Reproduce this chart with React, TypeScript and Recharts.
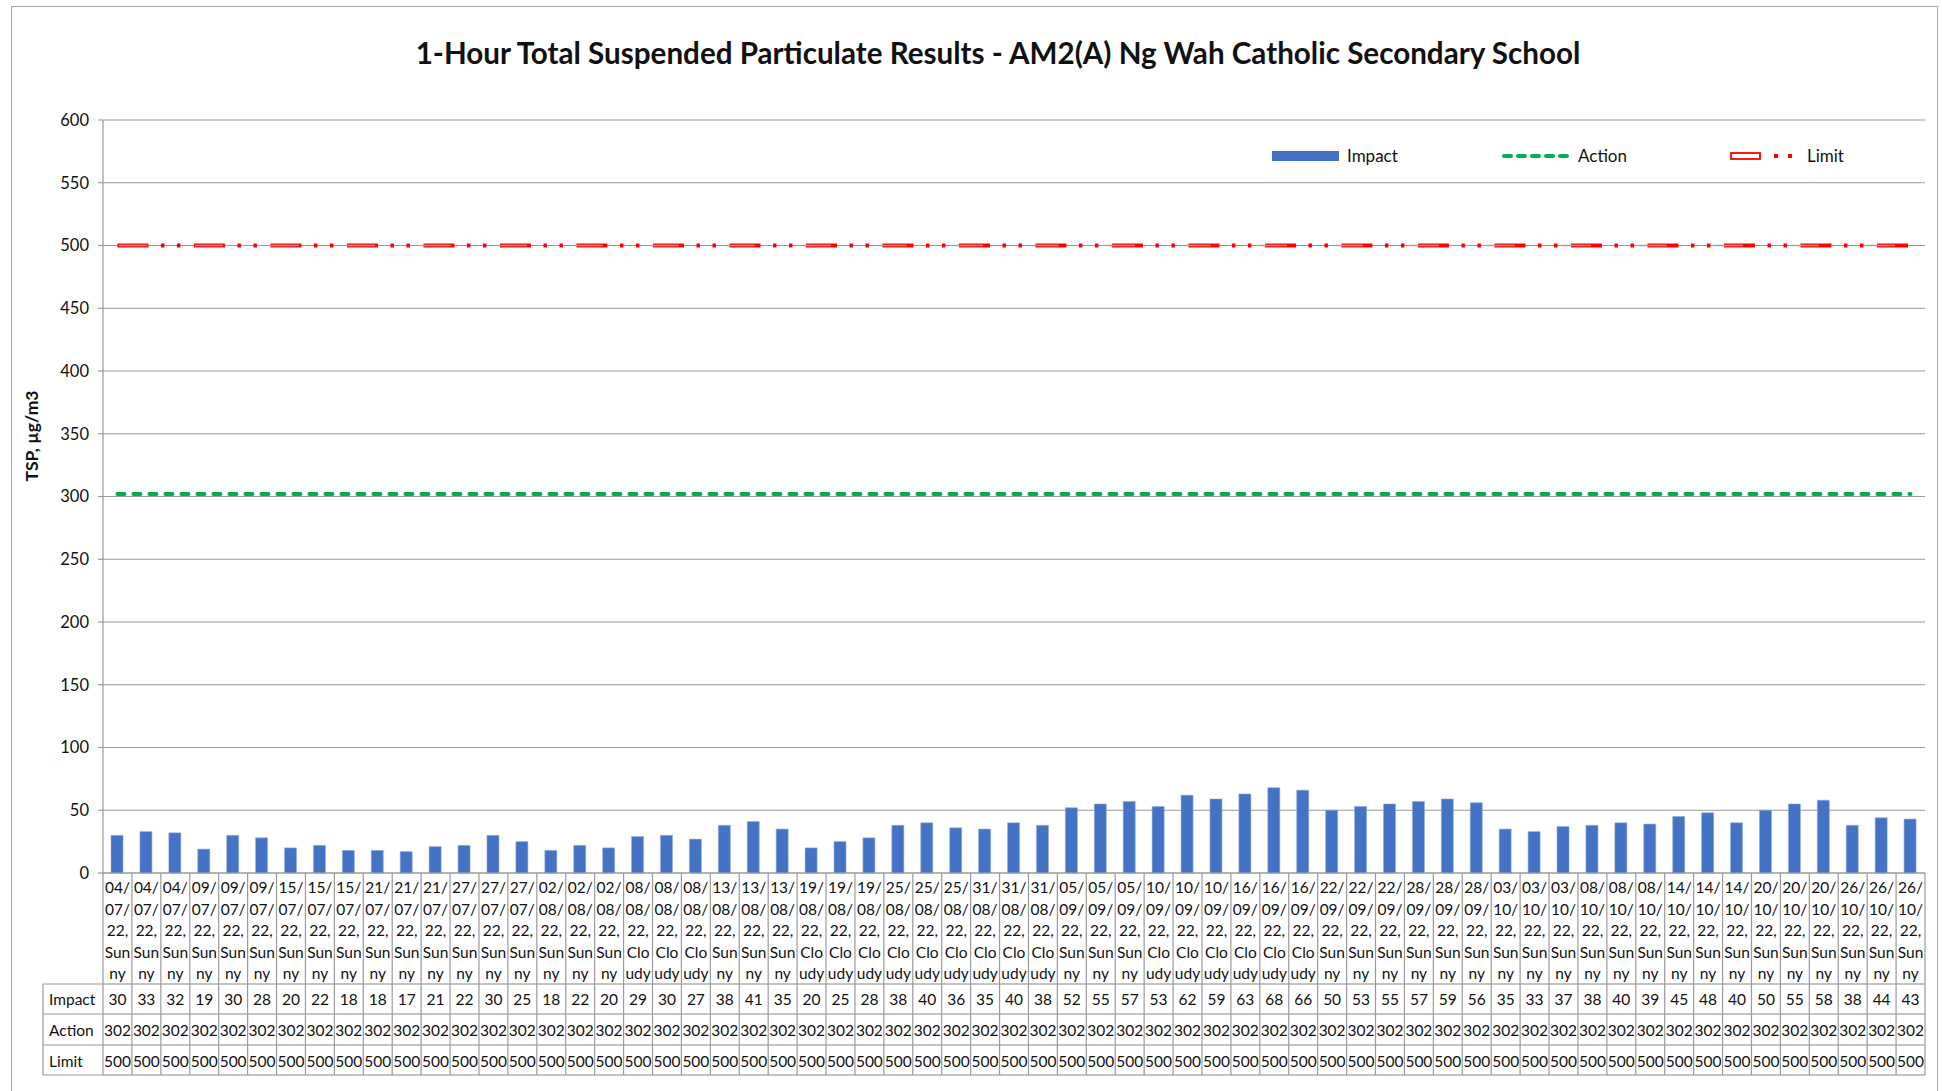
import React from "react";
import {
  Bar,
  CartesianGrid,
  ComposedChart,
  Legend,
  Line,
  XAxis,
  YAxis,
} from "recharts";

const dates = [
  "04/07/22", "04/07/22", "04/07/22", "09/07/22", "09/07/22", "09/07/22",
  "15/07/22", "15/07/22", "15/07/22", "21/07/22", "21/07/22", "21/07/22",
  "27/07/22", "27/07/22", "27/07/22", "02/08/22", "02/08/22", "02/08/22",
  "08/08/22", "08/08/22", "08/08/22", "13/08/22", "13/08/22", "13/08/22",
  "19/08/22", "19/08/22", "19/08/22", "25/08/22", "25/08/22", "25/08/22",
  "31/08/22", "31/08/22", "31/08/22", "05/09/22", "05/09/22", "05/09/22",
  "10/09/22", "10/09/22", "10/09/22", "16/09/22", "16/09/22", "16/09/22",
  "22/09/22", "22/09/22", "22/09/22", "28/09/22", "28/09/22", "28/09/22",
  "03/10/22", "03/10/22", "03/10/22", "08/10/22", "08/10/22", "08/10/22",
  "14/10/22", "14/10/22", "14/10/22", "20/10/22", "20/10/22", "20/10/22",
  "26/10/22", "26/10/22", "26/10/22",
];

const weather = [
  "Sunny", "Sunny", "Sunny", "Sunny", "Sunny", "Sunny",
  "Sunny", "Sunny", "Sunny", "Sunny", "Sunny", "Sunny",
  "Sunny", "Sunny", "Sunny", "Sunny", "Sunny", "Sunny",
  "Cloudy", "Cloudy", "Cloudy", "Sunny", "Sunny", "Sunny",
  "Cloudy", "Cloudy", "Cloudy", "Cloudy", "Cloudy", "Cloudy",
  "Cloudy", "Cloudy", "Cloudy", "Sunny", "Sunny", "Sunny",
  "Cloudy", "Cloudy", "Cloudy", "Cloudy", "Cloudy", "Cloudy",
  "Sunny", "Sunny", "Sunny", "Sunny", "Sunny", "Sunny",
  "Sunny", "Sunny", "Sunny", "Sunny", "Sunny", "Sunny",
  "Sunny", "Sunny", "Sunny", "Sunny", "Sunny", "Sunny",
  "Sunny", "Sunny", "Sunny",
];

const impact = [
  30, 33, 32, 19, 30, 28, 20, 22, 18, 18, 17, 21, 22, 30, 25, 18, 22, 20, 29,
  30, 27, 38, 41, 35, 20, 25, 28, 38, 40, 36, 35, 40, 38, 52, 55, 57, 53, 62,
  59, 63, 68, 66, 50, 53, 55, 57, 59, 56, 35, 33, 37, 38, 40, 39, 45, 48, 40,
  50, 55, 58, 38, 44, 43,
];

const action = [
  302, 302, 302, 302, 302, 302, 302, 302, 302, 302, 302, 302, 302, 302, 302,
  302, 302, 302, 302, 302, 302, 302, 302, 302, 302, 302, 302, 302, 302, 302,
  302, 302, 302, 302, 302, 302, 302, 302, 302, 302, 302, 302, 302, 302, 302,
  302, 302, 302, 302, 302, 302, 302, 302, 302, 302, 302, 302, 302, 302, 302,
  302, 302, 302,
];

const limit = [
  500, 500, 500, 500, 500, 500, 500, 500, 500, 500, 500, 500, 500, 500, 500,
  500, 500, 500, 500, 500, 500, 500, 500, 500, 500, 500, 500, 500, 500, 500,
  500, 500, 500, 500, 500, 500, 500, 500, 500, 500, 500, 500, 500, 500, 500,
  500, 500, 500, 500, 500, 500, 500, 500, 500, 500, 500, 500, 500, 500, 500,
  500, 500, 500,
];

const yTicks = [0, 50, 100, 150, 200, 250, 300, 350, 400, 450, 500, 550, 600];

const data = dates.map((d, i) => ({
  label: `${d}, ${weather[i]}`,
  date: d,
  weather: weather[i],
  impact: impact[i],
  action: action[i],
  limit: limit[i],
}));

const FONT = "Lato, 'Open Sans', sans-serif";
const TEXT = "#111";
const GRID = "#9a9a9a";
const W = 1942;
const H = 1091;
const PLOT_LEFT = 103;
const PLOT_RIGHT = 1925;
const CW = (PLOT_RIGHT - PLOT_LEFT) / data.length;
const HEADER_W = 60;
// row offsets below the axis line
const ROW_LINES = [111, 141, 172, 202];
const ROW_TEXT = [126, 157, 188];
const ROW_NAMES = ["Impact", "Action", "Limit"];

function splitLabel(date: string, w: string) {
  return [date.slice(0, 3), date.slice(3, 6), date.slice(6) + ",", w.slice(0, 3), w.slice(3)];
}

function TableTick(props: any) {
  const { x, y, index, payload } = props;
  const row = data[index] ?? data.find((d) => d.label === payload?.value);
  if (!row) return null;
  const l = x - CW / 2;
  const r = x + CW / 2;
  const lines = splitLabel(row.date, row.weather);
  const vals = [row.impact, row.action, row.limit];
  const bottom = y + ROW_LINES[3];
  const ts = { fontFamily: FONT, fontSize: 15.5, fill: TEXT } as const;
  return (
    <g>
      <line x1={l} x2={l} y1={y} y2={bottom} stroke={GRID} strokeWidth={1.2} />
      {index === data.length - 1 && (
        <line x1={r} x2={r} y1={y} y2={bottom} stroke={GRID} strokeWidth={1.2} />
      )}
      {ROW_LINES.map((o) => (
        <line key={o} x1={l} x2={r} y1={y + o} y2={y + o} stroke={GRID} strokeWidth={1.2} />
      ))}
      {lines.map((t, i) => (
        <text key={i} x={x} y={y + 14 + i * 21.5} textAnchor="middle" dominantBaseline="central" {...ts}>
          {t}
        </text>
      ))}
      {vals.map((v, i) => (
        <text key={i} x={x} y={y + ROW_TEXT[i]} textAnchor="middle" dominantBaseline="central" {...ts}>
          {v}
        </text>
      ))}
      {index === 0 && (
        <g>
          <line
            x1={l - HEADER_W}
            x2={l - HEADER_W}
            y1={y + ROW_LINES[0]}
            y2={bottom}
            stroke={GRID}
            strokeWidth={1.2}
          />
          {ROW_LINES.map((o) => (
            <line key={o} x1={l - HEADER_W} x2={l} y1={y + o} y2={y + o} stroke={GRID} strokeWidth={1.2} />
          ))}
          {ROW_NAMES.map((n, i) => (
            <text key={n} x={l - HEADER_W + 6} y={y + ROW_TEXT[i]} dominantBaseline="central" {...ts}>
              {n}
            </text>
          ))}
        </g>
      )}
    </g>
  );
}

function LegendBox() {
  const ts: React.CSSProperties = { fontFamily: FONT, fontSize: 17, color: TEXT, position: "absolute", top: -11, lineHeight: "22px" };
  return (
    <div style={{ position: "relative", width: 600, height: 20 }}>
      <svg width={600} height={20} style={{ position: "absolute", left: 0, top: -10 }}>
        <rect x={7} y={5} width={67} height={10} fill="#4472C4" />
        <line x1={239} x2={304} y1={10} y2={10} stroke="#00B050" strokeWidth={4} strokeDasharray="7 7" strokeLinecap="round" />
        <rect x={466} y={7} width={29} height={6} fill="#fff" stroke="#FF0000" strokeWidth={1.8} />
        <rect x={509} y={8} width={4} height={4} fill="#FF0000" />
        <rect x={523} y={8} width={4} height={4} fill="#FF0000" />
      </svg>
      <span style={{ ...ts, left: 82 }}>Impact</span>
      <span style={{ ...ts, left: 313 }}>Action</span>
      <span style={{ ...ts, left: 542 }}>Limit</span>
    </div>
  );
}

function YLabel(props: any) {
  const vb = props.viewBox || {};
  const cx = (vb.x ?? 12) + 19;
  const cy = 436;
  return (
    <text
      x={cx}
      y={cy}
      transform={`rotate(-90 ${cx} ${cy})`}
      textAnchor="middle"
      dominantBaseline="central"
      fontFamily={FONT}
      fontWeight={700}
      fontSize={17.5}
      fill={TEXT}
    >
      TSP, µg/m3
    </text>
  );
}

export default function App() {
  return (
    <div style={{ position: "absolute", left: 0, top: 0, width: W, height: H, background: "#fff", fontFamily: FONT }}>
      <div
        style={{
          position: "absolute",
          left: 11,
          top: 6,
          width: 1927,
          height: 1090,
          border: "1.5px solid #a8a8a8",
          boxSizing: "border-box",
        }}
      />
      <div
        style={{
          position: "absolute",
          left: 0,
          width: 1996,
          top: 35,
          textAlign: "center",
          fontFamily: FONT,
          fontWeight: 700,
          fontSize: 29.6,
          lineHeight: "36px",
          color: TEXT,
        }}
      >
        1-Hour Total Suspended Particulate Results - AM2(A) Ng Wah Catholic Secondary School
      </div>
      <div style={{ position: "absolute", left: 0, top: 0 }}>
        <ComposedChart
          width={W}
          height={H}
          data={data}
          margin={{ top: 120, right: W - PLOT_RIGHT, bottom: 14, left: 12 }}
        >
          <CartesianGrid vertical={false} stroke={GRID} strokeWidth={1.2} />
          <XAxis
            dataKey="label"
            interval={0}
            tickSize={0}
            tickMargin={0}
            height={H - 873 - 14}
            axisLine={{ stroke: GRID, strokeWidth: 1.2 }}
            tickLine={false}
            tick={<TableTick />}
          />
          <YAxis
            domain={[0, 600]}
            ticks={yTicks}
            interval={0}
            width={PLOT_LEFT - 12}
            tickSize={5}
            tickMargin={9}
            axisLine={{ stroke: GRID, strokeWidth: 1.2 }}
            tickLine={{ stroke: GRID, strokeWidth: 1.2 }}
            tick={{ fontFamily: FONT, fontSize: 16.5, fill: TEXT }}
            label={<YLabel />}
          />
          <Legend
            verticalAlign="top"
            content={<LegendBox />}
            wrapperStyle={{ position: "absolute", left: 1265, top: 156, width: 600, height: 0 }}
          />
          <Bar dataKey="impact" name="Impact" fill="#4472C4" stroke="#8eaadb" strokeWidth={0.6} barSize={12} isAnimationActive={false} />
          <Line
            dataKey="action"
            name="Action"
            type="linear"
            stroke="#00B050"
            strokeWidth={4}
            strokeDasharray="7 9"
            strokeLinecap="round"
            dot={false}
            activeDot={false}
            isAnimationActive={false}
          />
          <Line
            dataKey="limit"
            name="Limit"
            type="linear"
            stroke="#FF0000"
            strokeWidth={4}
            strokeDasharray="31 12.5 3.5 12.5 3.5 13.5"
            dot={false}
            activeDot={false}
            isAnimationActive={false}
          />
          <Line
            dataKey="limit"
            legendType="none"
            type="linear"
            stroke="#a0a0a0"
            strokeWidth={1.4}
            strokeDasharray="28 48"
            strokeDashoffset={-1.5}
            dot={false}
            activeDot={false}
            isAnimationActive={false}
          />
        </ComposedChart>
      </div>
    </div>
  );
}
